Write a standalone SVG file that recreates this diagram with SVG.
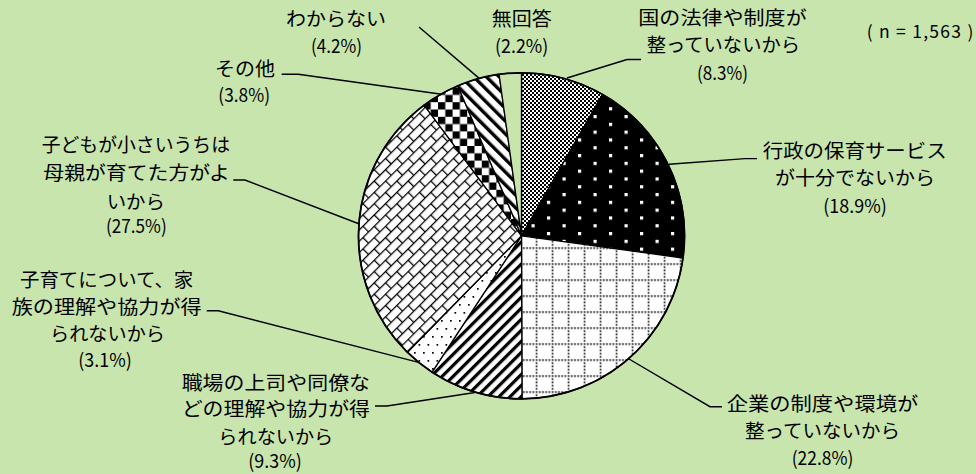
<svg xmlns="http://www.w3.org/2000/svg" width="976" height="474" viewBox="0 0 976 474">
<style>
  text { font-family: "Noto Sans CJK JP", "Noto Sans", sans-serif; font-size: 19px; fill: #000; }
  .n { font-size: 17.5px; }
  .lead { fill: none; stroke: #000; stroke-width: 1.4; }
  .slice { stroke: #000; stroke-width: 1.3; stroke-linejoin: round; }
</style>
<defs>
  <pattern id="pFineCheck" patternUnits="userSpaceOnUse" width="4" height="4">
    <rect width="4" height="4" fill="#fff"/>
    <rect x="0" y="0" width="2" height="2" fill="#000"/>
    <rect x="2" y="2" width="2" height="2" fill="#000"/>
  </pattern>
  <pattern id="pBlackDots" patternUnits="userSpaceOnUse" x="20" y="13.6" width="31" height="15.6">
    <rect width="31" height="15.6" fill="#000"/>
    <rect x="0" y="0" width="3.2" height="3.2" fill="#fff"/>
    <rect x="15.5" y="7.8" width="3.2" height="3.2" fill="#fff"/>
  </pattern>
  <pattern id="pDotGrid" patternUnits="userSpaceOnUse" x="7.7" y="7.3" width="16" height="16">
    <rect width="16" height="16" fill="#fff"/>
    <g fill="#000">
      <rect x="0" y="0" width="1.6" height="1.6"/>
      <rect x="3.2" y="0" width="1.6" height="1.6"/>
      <rect x="6.4" y="0" width="1.6" height="1.6"/>
      <rect x="9.6" y="0" width="1.6" height="1.6"/>
      <rect x="12.8" y="0" width="1.6" height="1.6"/>
      <rect x="0" y="3.2" width="1.6" height="1.6"/>
      <rect x="0" y="6.4" width="1.6" height="1.6"/>
      <rect x="0" y="9.6" width="1.6" height="1.6"/>
      <rect x="0" y="12.8" width="1.6" height="1.6"/>
    </g>
  </pattern>
  <pattern id="pUpStripe" patternUnits="userSpaceOnUse" width="7.8" height="20" patternTransform="rotate(45)">
    <rect width="7.8" height="20" fill="#fff"/>
    <rect x="0" y="0" width="3.2" height="20" fill="#000"/>
  </pattern>
  <pattern id="pSparseDots" patternUnits="userSpaceOnUse" width="9" height="16">
    <rect width="9" height="16" fill="#fff"/>
    <rect x="0" y="0" width="1.7" height="1.7" fill="#000"/>
    <rect x="4.5" y="8" width="1.7" height="1.7" fill="#000"/>
  </pattern>
  <pattern id="pBrick" patternUnits="userSpaceOnUse" width="16" height="16" patternTransform="rotate(-45)">
    <rect width="16" height="16" fill="#fff"/>
    <g stroke="#000" stroke-width="1.3" fill="none">
      <line x1="0" y1="0.6" x2="16" y2="0.6"/>
      <line x1="0" y1="8.6" x2="16" y2="8.6"/>
      <line x1="0.6" y1="0" x2="0.6" y2="8.6"/>
      <line x1="8.6" y1="8.6" x2="8.6" y2="16"/>
    </g>
  </pattern>
  <pattern id="pBigCheck" patternUnits="userSpaceOnUse" width="14.6" height="14.6">
    <rect width="14.6" height="14.6" fill="#fff"/>
    <rect x="0" y="0" width="7.3" height="7.3" fill="#000"/>
    <rect x="7.3" y="7.3" width="7.3" height="7.3" fill="#000"/>
  </pattern>
  <pattern id="pDownStripe" patternUnits="userSpaceOnUse" width="9" height="20" patternTransform="rotate(-45)">
    <rect width="9" height="20" fill="#fff"/>
    <rect x="0" y="0" width="3.4" height="20" fill="#000"/>
  </pattern>
</defs>

<rect x="0" y="0" width="976" height="474" fill="#C8E5AD"/>

<g id="pie">
  <path id="s-kuni" class="slice" fill="url(#pFineCheck)" d="M521.5,235.8 L521.5,72.8 A163,163 0 0 1 602.6,94.4 Z"/>
  <path id="s-gyosei" class="slice" fill="url(#pBlackDots)" d="M521.5,235.8 L602.6,94.4 A163,163 0 0 1 683.0,258.0 Z"/>
  <path id="s-kigyo" class="slice" fill="url(#pDotGrid)" d="M521.5,235.8 L683.0,258.0 A163,163 0 0 1 522.0,398.8 Z"/>
  <path id="s-shokuba" class="slice" fill="url(#pUpStripe)" d="M521.5,235.8 L522.0,398.8 A163,163 0 0 1 432.1,372.1 Z"/>
  <path id="s-kazoku" class="slice" fill="url(#pSparseDots)" d="M521.5,235.8 L432.1,372.1 A163,163 0 0 1 407.4,352.2 Z"/>
  <path id="s-kodomo" class="slice" fill="url(#pBrick)" d="M521.5,235.8 L407.4,352.2 A163,163 0 0 1 424.1,105.1 Z"/>
  <path id="s-sonota" class="slice" fill="url(#pBigCheck)" d="M521.5,235.8 L424.1,105.1 A163,163 0 0 1 457.8,85.8 Z"/>
  <path id="s-wakaranai" class="slice" fill="url(#pDownStripe)" d="M521.5,235.8 L457.8,85.8 A163,163 0 0 1 499.1,74.3 Z"/>
  <path id="s-mukaito" class="slice" fill="#C8E5AD" d="M521.5,235.8 L499.1,74.3 A163,163 0 0 1 521.5,72.8 Z"/>
  <circle cx="521.5" cy="235.8" r="163" fill="none" stroke="#000" stroke-width="1.8"/>
</g>

<g id="connectors">
  <polyline class="lead" points="567,78 627,59.5 641,59.5"/>
  <polyline class="lead" points="669,164.3 745,158.6 757,158.6"/>
  <polyline class="lead" points="629,359 710,406.7 722,406.7"/>
  <polyline class="lead" points="475,392.5 387,406 375,406"/>
  <polyline class="lead" points="419.5,362.6 218.3,310.7 206.7,310.7"/>
  <polyline class="lead" points="359.4,224 245,180 233.3,180"/>
  <polyline class="lead" points="441.7,94.2 298.3,74.3 281.7,74.3"/>
  <polyline class="lead" points="479.5,78.6 419,27"/>
</g>

<g id="label-kuni">
  <text x="638.3" y="24.5" textLength="168.4" lengthAdjust="spacingAndGlyphs">国の法律や制度が</text>
  <text x="646.7" y="52" textLength="153.3" lengthAdjust="spacingAndGlyphs">整っていないから</text>
  <text x="697" y="80" textLength="51" lengthAdjust="spacingAndGlyphs">(8.3%)</text>
</g>
<g id="label-gyosei">
  <text x="762.7" y="158" textLength="184" lengthAdjust="spacingAndGlyphs">行政の保育サービス</text>
  <text x="775" y="185" textLength="160" lengthAdjust="spacingAndGlyphs">が十分でないから</text>
  <text x="823.3" y="213" textLength="63.4" lengthAdjust="spacingAndGlyphs">(18.9%)</text>
</g>
<g id="label-kigyo">
  <text x="726.7" y="411" textLength="191.6" lengthAdjust="spacingAndGlyphs">企業の制度や環境が</text>
  <text x="745" y="438" textLength="155" lengthAdjust="spacingAndGlyphs">整っていないから</text>
  <text x="791.7" y="465" textLength="61.6" lengthAdjust="spacingAndGlyphs">(22.8%)</text>
</g>
<g id="label-shokuba">
  <text x="181.7" y="389.5" textLength="188.3" lengthAdjust="spacingAndGlyphs">職場の上司や同僚な</text>
  <text x="181.7" y="416" textLength="188.3" lengthAdjust="spacingAndGlyphs">どの理解や協力が得</text>
  <text x="218.3" y="443.5" textLength="115" lengthAdjust="spacingAndGlyphs">られないから</text>
  <text x="248.3" y="468.3" textLength="53.4" lengthAdjust="spacingAndGlyphs">(9.3%)</text>
</g>
<g id="label-kazoku">
  <text x="20" y="287" textLength="173.3" lengthAdjust="spacingAndGlyphs">子育てについて、家</text>
  <text x="11.7" y="313.7" textLength="190" lengthAdjust="spacingAndGlyphs">族の理解や協力が得</text>
  <text x="50" y="341" textLength="115" lengthAdjust="spacingAndGlyphs">られないから</text>
  <text x="78.3" y="366.7" textLength="53.4" lengthAdjust="spacingAndGlyphs">(3.1%)</text>
</g>
<g id="label-kodomo">
  <text x="41.7" y="152" textLength="188.3" lengthAdjust="spacingAndGlyphs">子どもが小さいうちは</text>
  <text x="43.3" y="180" textLength="186.7" lengthAdjust="spacingAndGlyphs">母親が育てた方がよ</text>
  <text x="106.7" y="208.5" textLength="58.3" lengthAdjust="spacingAndGlyphs">いから</text>
  <text x="106" y="233.3" textLength="60.7" lengthAdjust="spacingAndGlyphs">(27.5%)</text>
</g>
<g id="label-sonota">
  <text x="215" y="76" textLength="60" lengthAdjust="spacingAndGlyphs">その他</text>
  <text x="218.3" y="101.7" textLength="51.7" lengthAdjust="spacingAndGlyphs">(3.8%)</text>
</g>
<g id="label-wakaranai">
  <text x="286" y="26" textLength="100" lengthAdjust="spacingAndGlyphs">わからない</text>
  <text x="311" y="53" textLength="51" lengthAdjust="spacingAndGlyphs">(4.2%)</text>
</g>
<g id="label-mukaito">
  <text x="491.7" y="26" textLength="60" lengthAdjust="spacingAndGlyphs">無回答</text>
  <text x="495" y="53.3" textLength="53.3" lengthAdjust="spacingAndGlyphs">(2.2%)</text>
</g>
<g id="label-n">
  <text class="n" x="866.7" y="38.3" textLength="106.6" lengthAdjust="spacing">( n = 1,563 )</text>
</g>
</svg>
